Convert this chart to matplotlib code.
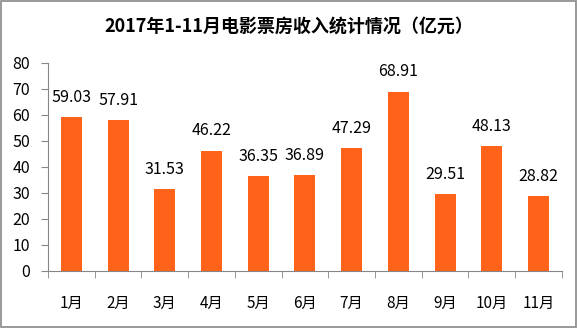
import numpy as np
import matplotlib.pyplot as plt
from matplotlib.patches import Rectangle

plt.rcParams['font.family'] = ['Noto Sans CJK SC', 'DejaVu Sans']

months = ["1月", "2月", "3月", "4月", "5月", "6月", "7月", "8月", "9月", "10月", "11月"]
revenue = [59.03, 57.91, 31.53, 46.22, 36.35, 36.89, 47.29, 68.91, 29.51, 48.13, 28.82]

fig = plt.figure(figsize=(5.78, 3.28), dpi=100)
ax = fig.add_axes([0.083, 0.174, 0.889, 0.635])

x = np.arange(len(months))
ax.bar(x, revenue, width=0.45, color="#FF6319", zorder=2)

for xi, v in zip(x, revenue):
    ax.annotate(f"{v:.2f}", (xi, v), xytext=(0, 8), textcoords="offset points",
                ha="center", va="bottom", fontsize=11.5, color="#000000")

ax.set_xlim(-0.5, len(months) - 0.5)
ax.set_ylim(0, 80)
ax.set_yticks(range(0, 81, 10))
ax.set_xticks(x)
ax.set_xticklabels(months, fontsize=11)
ax.set_xticks(np.arange(-0.5, len(months), 1), minor=True)
ax.tick_params(axis="x", which="major", length=0, pad=17)
ax.tick_params(axis="x", which="minor", length=5, color="#868686", direction="out")
ax.tick_params(axis="y", labelsize=11.5, length=5, color="#868686", direction="out", pad=8)

for s in ["top", "right"]:
    ax.spines[s].set_visible(False)
for s in ["left", "bottom"]:
    ax.spines[s].set_color("#868686")

fig.text(0.5, 0.92, "2017年1-11月电影票房收入统计情况（亿元）", ha="center", va="center",
         fontsize=13, fontweight="bold")

fig.patches.append(Rectangle((0.002, 0.003), 0.995, 0.994, transform=fig.transFigure,
                             fill=False, edgecolor="#888888", linewidth=1.2))

fig.savefig("out.png", dpi=100)
